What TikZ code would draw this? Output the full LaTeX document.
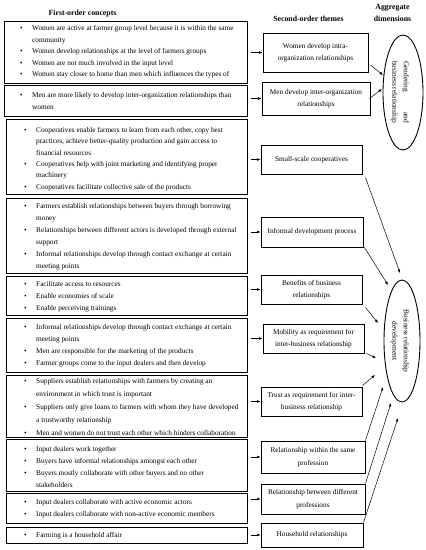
\documentclass[tikz,border=0pt]{standalone}
\usepackage{fontspec}
\setmainfont{Liberation Serif}
\usetikzlibrary{arrows.meta,shapes.geometric,calc}
\newcommand\bl{\makebox[12pt][l]{\textbullet}}
\newcommand\ind{\hspace*{12pt}}
\begin{document}
\begin{tikzpicture}[x=1pt,y=-1pt,
  lbox/.style={draw, line width=1pt, inner sep=0pt},
  ltext/.style={anchor=west, inner sep=0pt, align=left, font=\fontsize{7.3}{12}\selectfont},
  mbox/.style={draw, line width=0.9pt, inner sep=0pt, align=center, font=\fontsize{7.3}{12.5}\selectfont},
  ell/.style={draw, ellipse, line width=0.9pt, inner sep=0pt},
  etext/.style={rotate=-90, align=center, inner sep=0pt, font=\fontsize{7.4}{11.5}\selectfont},
  hdr/.style={font=\fontsize{7.8}{12}\bfseries\selectfont, align=center, inner sep=0pt},
  arr/.style={-{Latex[length=3.5pt,width=2.8pt]}, line width=0.5pt}]
\useasboundingbox (0,0) rectangle (426,550);

% headers
\node[hdr] (H1) at (82.5,14) {First-order concepts};
\node[hdr] (H2) at (308.5,19) {Second-order themes};
\node[hdr] (H3) at (392.5,13) {Aggregate\\dimensions};

% first-order boxes
\node[lbox, minimum width=243pt, minimum height=62pt] (L1) at (125.5,52) {};
\node[lbox, minimum width=243pt, minimum height=31pt] (L2) at (125.5,100.5) {};
\node[lbox, minimum width=240.5pt, minimum height=75pt] (L3) at (126.75,156.5) {};
\node[lbox, minimum width=240.5pt, minimum height=75pt] (L4) at (126.75,235.5) {};
\node[lbox, minimum width=240.5pt, minimum height=39pt] (L5) at (126.75,295.5) {};
\node[lbox, minimum width=240.5pt, minimum height=54pt] (L6) at (126.75,345) {};
\node[lbox, minimum width=240.5pt, minimum height=62pt] (L7) at (126.75,406) {};
\node[lbox, minimum width=240.5pt, minimum height=52pt] (L8) at (126.75,465) {};
\node[lbox, minimum width=240.5pt, minimum height=30pt] (L9) at (126.75,508) {};
\node[lbox, minimum width=240.5pt, minimum height=16pt] (L10) at (126.75,535) {};

\node[ltext, font=\fontsize{7.3}{11.5}\selectfont] (T1) at (20,52) {\bl Women are active at farmer group level because it is within the same\\\ind community\\\bl Women develop relationships at the level of farmers groups\\\bl Women are not much involved in the input level\\\bl Women stay closer to home than men which influences the types of};
\node[ltext] (T2) at (20,101) {\bl Men are more likely to develop inter-organization relationships than\\\ind women};
\node[ltext, font=\fontsize{7.3}{11.3}\selectfont] (T3) at (24,159) {\bl Cooperatives enable farmers to learn from each other, copy best\\\ind practices, achieve better-quality production and gain access to\\\ind financial resources\\\bl Cooperatives help with joint marketing and identifying proper\\\ind machinery\\\bl Cooperatives facilitate collective sale of the products};
\node[ltext] (T4) at (24,237) {\bl Farmers establish relationships between buyers through borrowing\\\ind money\\\bl Relationships between different actors is developed through external\\\ind support\\\bl Informal relationships develop through contact exchange at certain\\\ind meeting points};
\node[ltext] (T5) at (24,296.3) {\bl Facilitate access to resources\\\bl Enable economies of scale\\\bl Enable perceiving trainings};
\node[ltext] (T6) at (24,345.3) {\bl Informal relationships develop through contact exchange at certain\\\ind meeting points\\\bl Men are responsible for the marketing of the products\\\bl Farmer groups come to the input dealers and then develop};
\node[ltext, font=\fontsize{7.3}{13}\selectfont] (T7) at (24,407) {\bl Suppliers establish relationships with farmers by creating an\\\ind environment in which trust is important\\\bl Suppliers only give loans to farmers with whom they have developed\\\ind a trustworthy relationship\\\bl Men and women do not trust each other which hinders collaboration};
\node[ltext] (T8) at (24,467) {\bl Input dealers work together\\\bl Buyers have informal relationships amongst each other\\\bl Buyers mostly collaborate with other buyers and no other\\\ind stakeholders};
\node[ltext] (T9) at (24,508.3) {\bl Input dealers collaborate with active economic actors\\\bl Input dealers collaborate with non-active economic members};
\node[ltext] (T10) at (24,536) {\bl Farming is a household affair};

% second-order themes
\node[mbox, minimum width=105pt, minimum height=39pt] (M1) at (315.5,52.5) {Women develop intra-\\organization relationships};
\node[mbox, minimum width=108pt, minimum height=33pt] (M2) at (316,98.5) {Men develop inter-organization\\relationships};
\node[mbox, minimum width=101pt, minimum height=29pt] (M3) at (311.5,159.5) {Small-scale cooperatives};
\node[mbox, minimum width=102pt, minimum height=30pt] (M4) at (312,232) {Informal development process};
\node[mbox, minimum width=101pt, minimum height=29pt] (M5) at (311.5,289.5) {Benefits of business\\relationships};
\node[mbox, minimum width=101pt, minimum height=29pt] (M6) at (313.5,338.5) {Mobility as requirement for\\inter-business relationship};
\node[mbox, minimum width=101pt, minimum height=29pt] (M7) at (311.5,401.5) {Trust as requirement for inter-\\business relationship};
\node[mbox, minimum width=104pt, minimum height=32pt] (M8) at (313,457) {Relationship within the same\\profession};
\node[mbox, minimum width=104pt, minimum height=30pt] (M9) at (313,499) {Relationship between different\\professions};
\node[mbox, minimum width=102pt, minimum height=24pt] (M10) at (312,535) {Household relationships};

% aggregate dimensions
\node[ell, minimum width=40pt, minimum height=115pt] (E1) at (403,92.5) {};
\node[ell, minimum width=36pt, minimum height=122pt] (E2) at (402,341) {};
\node[etext] (E1t) at (400,92) {\makebox[62pt][s]{Gendering\hfill and}\\business relationship};
\node[etext] (E2t) at (400,341) {Business relationship\\development};

% connectors first -> second order
\foreach \i in {1,...,10}{
  \draw[arr] ($(L\i.east |- M\i.west)+(3,0)$) -- (M\i.west);
}

% connectors second order -> aggregate
\draw[arr] ([xshift=2pt,yshift=-12.5pt]M1.east) -- ([xshift=-20pt,yshift=17.5pt]E1.center);
\draw[arr] ([xshift=-1pt]M2.east) -- ([xshift=-21pt,yshift=3.5pt]E1.center);
\draw[arr] ([xshift=3pt,yshift=-3pt]M3.south east) -- ([xshift=-2pt,yshift=68pt]E2.center);
\draw[arr] ([xshift=1pt]M4.south east) -- ([xshift=-14pt,yshift=56pt]E2.center);
\draw[arr] ([xshift=3pt,yshift=-3pt]M5.south east) -- ([xshift=-24pt,yshift=18pt]E2.center);
\draw[arr] ([xshift=2pt]M6.south east) -- ([xshift=-26pt,yshift=-17pt]E2.center);
\draw[arr] ([yshift=1pt]M7.north east) -- ([xshift=-27pt,yshift=-34pt]E2.center);
\draw[arr] (M8.north east) -- ([xshift=-19pt,yshift=-46pt]E2.center);
\draw[arr] (M9.north east) -- ([xshift=-11pt,yshift=-62pt]E2.center);
\draw[arr] (M10.north east) -- ([xshift=-4pt,yshift=-77pt]E2.center);
\end{tikzpicture}
\end{document}
